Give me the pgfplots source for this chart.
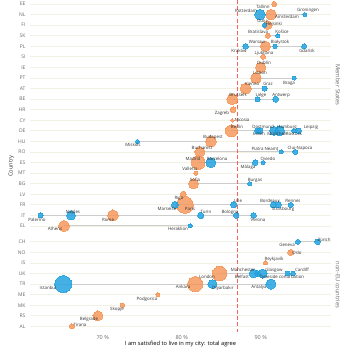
\documentclass[border=0pt]{standalone}
\usepackage{pgfplots}
\usepackage{pgfplotstable}
\pgfplotsset{compat=1.18}
\usepackage{fontspec}
\setmainfont{Open Sans}
\definecolor{cO}{RGB}{244,150,88}
\definecolor{cB}{RGB}{35,162,222}
\definecolor{cGrid}{RGB}{243,240,228}
\definecolor{cLine}{RGB}{205,205,205}
\definecolor{cTxt}{RGB}{50,50,50}
\definecolor{cTick}{RGB}{105,105,105}
\definecolor{avgred}{RGB}{248,100,90}

\pgfplotstableread{
x y r
91.7 0 2.5
91.3 -1 5.3
90.9 -2 4.2
90.9 -3 2.5
90.6 -4 5.0
90.3 -5 2.5
90.0 -6 5.2
89.4 -7 5.3
88.1 -8 5.5
86.4 -9 5.5
86.5 -10 2.8
86.4 -11 1.8
86.3 -12 6.0
83.7 -13 5.5
82.3 -14 5.0
82.1 -15 6.8
81.8 -16 2.0
81.5 -17 5.0
80.2 -18 3.0
80.4 -19 8.5
71.3 -20 5.5
65.1 -21 5.5
93.8 -23.5 3.0
90.6 -24.5 2.0
84.8 -25.5 7.3
81.7 -26.5 7.5
77.0 -27.5 2.0
72.5 -28.5 2.2
69.4 -29.5 5.0
66.1 -30.5 2.5
}\orangeData

\pgfplotstableread{
x y r
89.9 -1 5.3
95.6 -1 2.0
90.5 -2 2.2
92.15 -3 2.0
88.1 -4 2.8
91.8 -4 2.2
95.5 -4 2.5
94.25 -7 2.0
90.5 -8 2.5
89.6 -9 2.5
91.9 -9 3.0
89.9 -12 3.0
89.6 -12 2.8
91.7 -12 4.5
92.4 -12 5.0
94.2 -12 2.2
94.8 -12 2.8
74.4 -13 2.0
92.6 -14 2.0
94.4 -14 2.5
83.7 -15 5.0
89.3 -15 2.8
90.3 -15 2.0
88.6 -17 2.0
79.15 -19 3.5
86.6 -19 3.0
91.6 -19 3.0
92.2 -19 3.0
93.8 -19 2.5
62.15 -20 2.5
66.0 -20 4.5
82.4 -20 3.2
86.9 -20 2.8
89.1 -20 2.7
81.1 -21 2.0
94.7 -22.5 2.5
97.2 -22.5 2.8
89.1 -25.5 4.3
89.6 -25.5 3.0
90.25 -25.5 4.5
93.4 -25.5 2.3
94.1 -25.5 2.3
65.0 -26.5 8.5
83.9 -26.5 4.5
91.3 -26.5 5.0
}\blueData

\pgfplotstableread{
x y
87.05 0.38
87.05 -31.03
}\avgLine

\newcommand\cityL[3]{\node[lbl] at ({#1pt-30pt},{332pt-#2pt}) {#3};}
\newcommand\conn[3]{\addplot[draw=cLine, line width=1pt, forget plot] coordinates {(#1,#3) (#2,#3)};}

\begin{document}
\begin{tikzpicture}[lbl/.style={font=\fontsize{4.4}{5}\selectfont, text=cTxt, inner sep=0pt}]
\begin{axis}[
  scale only axis, width=301pt, height=332pt,
  xmin=60.8, xmax=98.9, ymin=-31.03, ymax=0.38,
  axis line style={draw=none},
  tick style={draw=none},
  xtick={70,80,90}, xticklabels={70 \%,80 \%,90 \%},
  ytick={0,-1,-2,-3,-4,-5,-6,-7,-8,-9,-10,-11,-12,-13,-14,-15,-16,-17,-18,-19,-20,-21,-22.5,-23.5,-24.5,-25.5,-26.5,-27.5,-28.5,-29.5,-30.5},
  yticklabels={EE,NL,FI,SK,PL,SI,IE,PT,AT,BE,HR,CY,DE,HU,RO,ES,MT,BG,LV,FR,IT,EL,CH,NO,IS,UK,TR,ME,MK,RS,AL},
  ymajorgrids, grid style={cGrid, line width=0.9pt},
  yticklabel style={font=\fontsize{5}{6}\selectfont, text=cTick, xshift=-1pt},
  xticklabel style={font=\fontsize{5.5}{6}\selectfont, text=cTick},
  xlabel={I am satisfied to live in my city: total agree},
  xlabel style={font=\fontsize{5.7}{6}\selectfont, text=black, yshift=5pt},
  ylabel={Country},
  ylabel style={font=\fontsize{5.7}{6}\selectfont, text=cTxt, yshift=-3pt},
  clip=false,
]
\conn{89.9}{95.6}{-1}
\conn{90.5}{90.9}{-2}
\conn{90.9}{92.15}{-3}
\conn{88.1}{95.5}{-4}
\conn{89.4}{94.25}{-7}
\conn{88.1}{90.5}{-8}
\conn{86.4}{91.9}{-9}
\conn{86.3}{94.8}{-12}
\conn{74.4}{83.7}{-13}
\conn{82.3}{94.4}{-14}
\conn{82.1}{90.3}{-15}
\conn{81.5}{88.6}{-17}
\conn{79.15}{93.8}{-19}
\conn{62.15}{89.1}{-20}
\conn{65.1}{81.1}{-21}
\conn{94.7}{97.2}{-22.5}
\conn{84.8}{94.1}{-25.5}
\conn{65.0}{91.3}{-26.5}
\addplot[draw=avgred, no marks, line width=1.6pt, dash pattern=on 4pt off 2.2pt, forget plot] table[x=x,y=y]{\avgLine};
\addplot[only marks, mark=*, mark options={draw=cO, fill=cO, line width=0pt, opacity=0.82},
  visualization depends on={\thisrow{r}\as\rr},
  scatter, scatter/use mapped color={draw=cO, fill=cO},
  scatter/@pre marker code/.append style={/tikz/mark size=\rr}] table[x=x,y=y]{\orangeData};
\addplot[only marks, mark=*, mark options={draw=cB, fill=cB, line width=0pt, opacity=0.85},
  visualization depends on={\thisrow{r}\as\rr},
  scatter, scatter/use mapped color={draw=cB, fill=cB},
  scatter/@pre marker code/.append style={/tikz/mark size=\rr}] table[x=x,y=y]{\blueData};
\end{axis}
\cityL{263}{7}{Tallinn}
\cityL{246}{11}{Rotterdam}
\cityL{287}{17}{Amsterdam}
\cityL{308}{10}{Groningen}
\cityL{262}{21}{Oulu}
\cityL{274}{24}{Helsinki}
\cityL{258}{32}{Bratislava}
\cityL{282}{32}{Košice}
\cityL{257}{42}{Warsaw}
\cityL{280}{42}{Białystok}
\cityL{239}{51}{Kraków}
\cityL{307}{51}{Gdańsk}
\cityL{264}{53}{Ljubljana}
\cityL{264}{63}{Dublin}
\cityL{260}{73}{Lisbon}
\cityL{289}{83}{Braga}
\cityL{252}{84}{Vienna}
\cityL{268}{84}{Graz}
\cityL{238}{95}{Brussels}
\cityL{261}{95}{Liège}
\cityL{281}{95}{Antwerp}
\cityL{222}{113}{Zagreb}
\cityL{242}{120}{Nicosia}
\cityL{237}{127}{Berlin}
\cityL{263}{127}{Dortmund}
\cityL{287}{127}{Hamburg}
\cityL{311}{127}{Leipzig}
\cityL{259}{134}{Essen}
\cityL{277}{134}{München}
\cityL{294}{134}{Rostock}
\cityL{213}{137}{Budapest}
\cityL{133}{145}{Miskolc}
\cityL{202}{148}{Bucharest}
\cityL{265}{149}{Piatra Neamţ}
\cityL{300}{148}{Cluj-Napoca}
\cityL{193}{159}{Madrid}
\cityL{217}{159}{Barcelona}
\cityL{268}{159}{Oviedo}
\cityL{248}{167}{Málaga}
\cityL{190}{169}{Valletta}
\cityL{195}{180}{Sofia}
\cityL{255}{180}{Burgas}
\cityL{179}{198}{Riga}
\cityL{167}{209}{Marseille}
\cityL{190}{209}{Paris}
\cityL{238}{201}{Lille}
\cityL{270}{201}{Bordeaux}
\cityL{293}{201}{Rennes}
\cityL{283}{209}{Strasbourg}
\cityL{37}{220}{Palermo}
\cityL{73}{212}{Naples}
\cityL{108}{220}{Rome}
\cityL{206}{212}{Turin}
\cityL{230}{212}{Bologna}
\cityL{258}{220}{Verona}
\cityL{55}{229}{Athens}
\cityL{178}{229}{Heraklion}
\cityL{324}{240}{Zürich}
\cityL{287}{245}{Geneva}
\cityL{297}{253}{Oslo}
\cityL{274}{259}{Reykjavík}
\cityL{243}{270}{Manchester}
\cityL{274}{270}{Glasgow}
\cityL{302}{270}{Cardiff}
\cityL{242}{277}{Belfast}
\cityL{282}{277}{Tyneside conurbation}
\cityL{207}{277}{London}
\cityL{48}{288}{Istanbul}
\cityL{183}{287}{Ankara}
\cityL{223}{288}{Diyarbakır}
\cityL{259}{287}{Antalya}
\cityL{147}{299}{Podgorica}
\cityL{117}{309}{Skopje}
\cityL{89}{319}{Belgrade}
\cityL{80}{325}{Tirana}
\node[font=\fontsize{5.8}{6}\selectfont, text=cTick, rotate=-90] at (308pt,247pt) {Member States};
\node[font=\fontsize{5.8}{6}\selectfont, text=cTick, rotate=-90] at (308pt,47pt) {non-EU countries};
\pgfresetboundingbox
\path[use as bounding box] (-30pt,-18pt) rectangle (320pt,332pt);
\end{tikzpicture}
\end{document}
